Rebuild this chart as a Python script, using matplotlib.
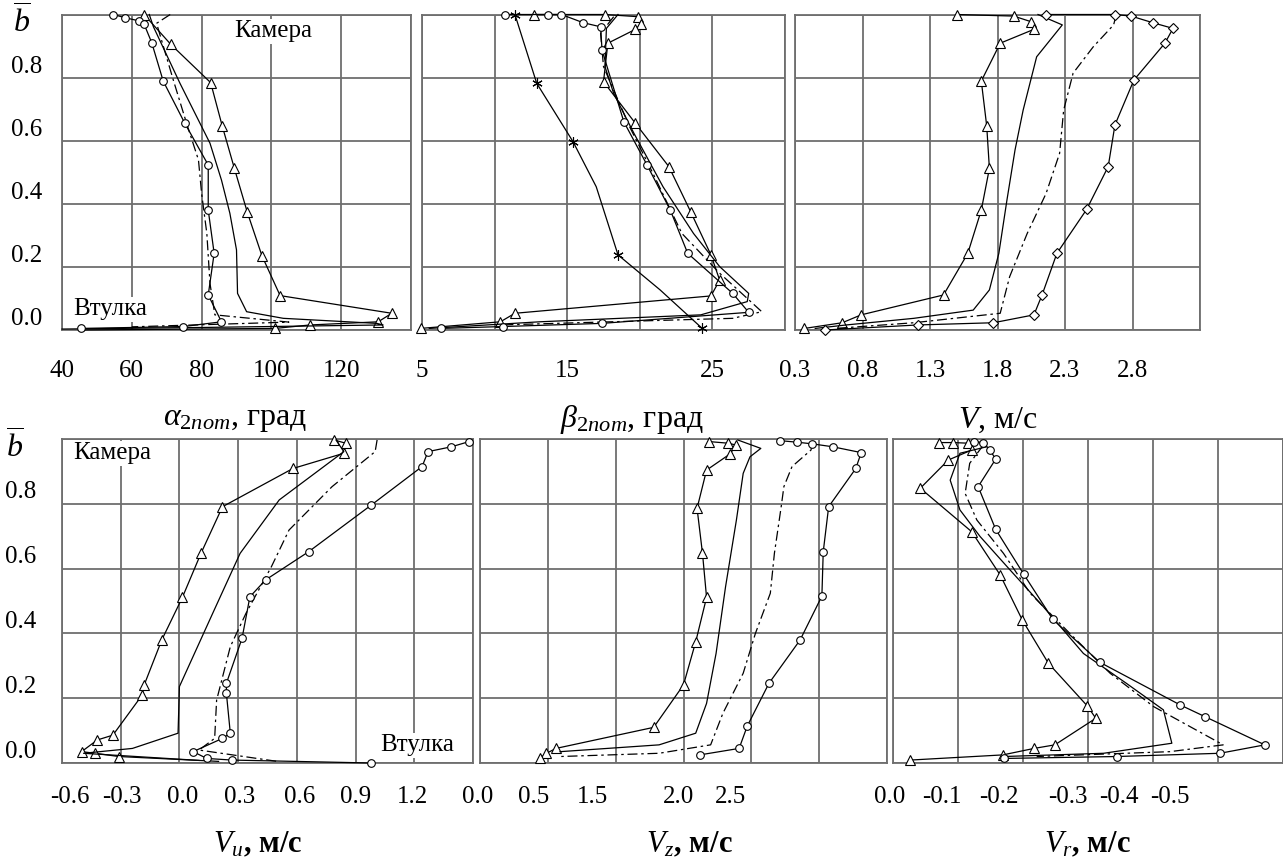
import matplotlib
matplotlib.use("Agg")
import matplotlib.pyplot as plt
import numpy as np

plt.rcParams['font.family'] = ['Liberation Serif', 'DejaVu Serif']
plt.rcParams['mathtext.fontset'] = 'custom'
plt.rcParams['mathtext.rm'] = 'Liberation Serif'
plt.rcParams['mathtext.it'] = 'Liberation Serif:italic'
plt.rcParams['mathtext.bf'] = 'Liberation Serif:bold'

# ---- alpha_2пот, град ----
a_tri_x = [63.5, 71.2, 82.6, 85.9, 89.4, 93.1, 97.3, 102.5, 134.5, 130.6, 111.1, 101.0, 45.0]
a_tri_b = [1.0, 0.905, 0.784, 0.647, 0.512, 0.373, 0.235, 0.109, 0.053, 0.026, 0.016, 0.005, 0.0]
a_sol_x = [65.0, 66.2, 73.8, 82.4, 85.7, 88.1, 90.0, 90.3, 92.9, 103.4, 130.2, 132.0, 80.0, 40.0]
a_sol_b = [1.0, 0.961, 0.782, 0.592, 0.475, 0.370, 0.254, 0.116, 0.058, 0.037, 0.021, 0.016, 0.008, 0.003]
a_dsh_x = [71.0, 67.1, 71.9, 75.7, 79.1, 80.0, 81.5, 82.4, 83.8, 105.0, 60.0]
a_dsh_b = [1.0, 0.972, 0.792, 0.655, 0.539, 0.433, 0.306, 0.148, 0.048, 0.025, 0.01]
a_cir_x = [54.7, 58.0, 62.0, 63.5, 65.7, 69.0, 75.2, 81.9, 81.9, 83.6, 81.9, 85.7, 74.8, 45.4]
a_cir_b = [1.0, 0.99, 0.98, 0.97, 0.911, 0.789, 0.655, 0.523, 0.380, 0.243, 0.111, 0.026, 0.011, 0.005]

# ---- beta_2пот, град ----
b_star_x = [11.4, 12.9, 15.4, 17.0, 18.5, 21.4, 24.3]
b_star_b = [1.0, 0.782, 0.597, 0.454, 0.238, 0.127, 0.005]
b_tri_x = [12.7, 17.6, 19.9, 20.1, 19.7, 17.8, 17.5, 19.7, 22.0, 23.5, 24.9, 25.5, 24.9, 11.4, 10.4, 4.9]
b_tri_b = [1.0, 1.0, 0.993, 0.970, 0.953, 0.909, 0.787, 0.655, 0.518, 0.375, 0.238, 0.158, 0.108, 0.053, 0.026, 0.005]
b_sol_x = [18.5, 17.7, 17.6, 18.2, 19.6, 21.6, 23.7, 25.5, 27.5, 27.4, 24.2, 13.1, 5.5]
b_sol_b = [1.0, 0.956, 0.835, 0.75, 0.623, 0.454, 0.306, 0.201, 0.116, 0.09, 0.048, 0.026, 0.005]
b_dsh_x = [18.2, 17.3, 17.5, 19.3, 20.9, 22.9, 25.5, 28.4, 26.4, 10.4]
b_dsh_b = [0.993, 0.940, 0.835, 0.644, 0.497, 0.306, 0.180, 0.058, 0.037, 0.016]
b_cir_x = [10.7, 13.7, 14.6, 16.1, 17.3, 17.4, 18.9, 20.5, 22.1, 23.3, 26.4, 27.5, 17.4, 10.6, 6.3]
b_cir_b = [1.0, 1.0, 1.0, 0.974, 0.961, 0.887, 0.660, 0.523, 0.380, 0.243, 0.116, 0.056, 0.021, 0.011, 0.005]

# ---- V, м/с ----
v_tri_x = [1.50, 1.92, 2.05, 2.07, 1.82, 1.68, 1.72, 1.74, 1.68, 1.58, 1.40, 0.79, 0.65, 0.37]
v_tri_b = [1.0, 0.995, 0.977, 0.953, 0.909, 0.789, 0.647, 0.512, 0.380, 0.243, 0.111, 0.048, 0.023, 0.005]
v_sol_x = [2.1, 2.28, 2.09, 1.99, 1.93, 1.87, 1.81, 1.74, 1.62, 1.18, 0.68, 0.45]
v_sol_b = [1.0, 0.967, 0.866, 0.697, 0.571, 0.412, 0.243, 0.127, 0.063, 0.037, 0.016, 0.005]
v_dsh_x = [2.68, 2.66, 2.51, 2.36, 2.29, 2.26, 2.16, 2.02, 1.89, 1.82, 1.18, 0.6]
v_dsh_b = [1.0, 0.967, 0.898, 0.814, 0.697, 0.560, 0.433, 0.306, 0.169, 0.053, 0.023, 0.005]
v_dia_x = [2.16, 2.67, 2.79, 2.95, 3.10, 3.04, 2.81, 2.67, 2.62, 2.46, 2.24, 2.13, 2.07, 1.77, 1.21, 0.52]
v_dia_b = [1.0, 1.0, 0.995, 0.974, 0.956, 0.909, 0.792, 0.650, 0.518, 0.382, 0.243, 0.111, 0.048, 0.023, 0.016, 0.0]

# ---- Vu, м/с ----
u_tri_x = [0.79, 0.85, 0.84, 0.58, 0.22, 0.11, 0.015, -0.09, -0.18, -0.19, -0.34, -0.42, -0.50, -0.43, -0.31, 0.2]
u_tri_b = [0.997, 0.987, 0.956, 0.909, 0.791, 0.647, 0.511, 0.380, 0.241, 0.210, 0.086, 0.071, 0.035, 0.030, 0.02, 0.005]
u_sol_x = [0.80, 0.84, 0.51, 0.31, 0.17, 0.0, -0.007, -0.24, -0.49, 0.1]
u_sol_b = [0.997, 0.961, 0.812, 0.647, 0.462, 0.236, 0.092, 0.045, 0.030, 0.008]
u_dsh_x = [1.01, 1.0, 0.78, 0.56, 0.47, 0.34, 0.26, 0.19, 0.18, 0.10, 0.5]
u_dsh_b = [0.997, 0.961, 0.853, 0.719, 0.606, 0.462, 0.359, 0.194, 0.076, 0.040, 0.005]
u_cir_x = [1.48, 1.39, 1.27, 1.24, 0.98, 0.66, 0.44, 0.36, 0.32, 0.24, 0.24, 0.26, 0.22, 0.07, 0.14, 0.27, 0.98]
u_cir_b = [0.992, 0.976, 0.961, 0.915, 0.796, 0.652, 0.565, 0.513, 0.385, 0.246, 0.215, 0.092, 0.076, 0.035, 0.014, 0.009, 0.0]

# ---- Vz, м/с ----
z_tri_x = [1.69, 1.83, 1.89, 1.84, 1.67, 1.60, 1.64, 1.67, 1.59, 1.50, 1.28, 0.56, 0.49, 0.44]
z_tri_b = [0.992, 0.987, 0.981, 0.953, 0.904, 0.786, 0.647, 0.511, 0.374, 0.241, 0.110, 0.045, 0.030, 0.014]
z_sol_x = [1.9, 2.07, 1.99, 1.94, 1.89, 1.81, 1.74, 1.67, 1.59, 1.32, 0.59]
z_sol_b = [0.997, 0.971, 0.945, 0.894, 0.75, 0.544, 0.338, 0.184, 0.092, 0.056, 0.035]
z_dsh_x = [2.45, 2.44, 2.30, 2.24, 2.22, 2.17, 2.14, 2.03, 1.94, 1.79, 1.70, 1.32, 0.59]
z_dsh_b = [0.992, 0.966, 0.915, 0.853, 0.791, 0.647, 0.524, 0.400, 0.277, 0.153, 0.056, 0.030, 0.02]
z_cir_x = [2.21, 2.34, 2.45, 2.60, 2.81, 2.77, 2.57, 2.53, 2.52, 2.36, 2.13, 1.97, 1.91, 1.62]
z_cir_b = [0.995, 0.99, 0.985, 0.976, 0.958, 0.909, 0.791, 0.652, 0.515, 0.380, 0.246, 0.114, 0.045, 0.025]

# ---- Vr, м/с ----
r_tri_x = [-0.070, -0.093, -0.116, -0.121, -0.085, -0.042, -0.121, -0.165, -0.199, -0.239, -0.299, -0.312, -0.249, -0.217, -0.169, -0.026]
r_tri_b = [0.989, 0.989, 0.987, 0.966, 0.935, 0.848, 0.714, 0.580, 0.441, 0.308, 0.176, 0.138, 0.056, 0.045, 0.025, 0.009]
r_sol_x = [-0.13, -0.144, -0.103, -0.088, -0.103, -0.134, -0.180, -0.231, -0.293, -0.359, -0.416, -0.429, -0.324, -0.170]
r_sol_b = [0.992, 0.976, 0.956, 0.873, 0.781, 0.699, 0.596, 0.483, 0.338, 0.246, 0.164, 0.061, 0.030, 0.020]
r_dsh_x = [-0.139, -0.118, -0.111, -0.129, -0.170, -0.211, -0.272, -0.334, -0.401, -0.508, -0.426, -0.221]
r_dsh_b = [0.981, 0.925, 0.832, 0.750, 0.647, 0.524, 0.400, 0.277, 0.174, 0.056, 0.035, 0.02]
r_cir_x = [-0.124, -0.139, -0.149, -0.158, -0.131, -0.158, -0.201, -0.246, -0.318, -0.442, -0.480, -0.572, -0.503, -0.344, -0.170]
r_cir_b = [0.992, 0.989, 0.966, 0.938, 0.853, 0.721, 0.583, 0.443, 0.311, 0.179, 0.143, 0.056, 0.030, 0.02, 0.014]

# tick labels
b_ticks = [0.0, 0.2, 0.4, 0.6, 0.8]
a_labels = ['40', '60', '80', '100', '120']
beta_labels = ['5', '15', '25']
v_labels = ['0.3', '0.8', '1.3', '1.8', '2.3', '2.8']
u_labels = ['-0.6', '-0.3', '0.0', '0.3', '0.6', '0.9', '1.2']
z_labels = ['0.0', '0.5', '1.5', '2.0', '2.5']
r_labels = ['0.0', '-0.1', '-0.2', '-0.3', '-0.4', '-0.5']

W, H = 1283, 867
fig = plt.figure(figsize=(W / 100, H / 100), dpi=100)
GRID = '#6e6e6e'


def panel(x0, x1, y0, y1, xlim, xstep):
    ax = fig.add_axes([x0 / W, 1 - y1 / H, (x1 - x0) / W, (y1 - y0) / H])
    ax.set_xlim(*xlim)
    ax.set_ylim(0, 1)
    lo, hi = min(xlim), max(xlim)
    ax.set_xticks(np.arange(lo, hi + xstep / 2, xstep))
    ax.set_yticks([0, 0.2, 0.4, 0.6, 0.8, 1.0])
    ax.grid(True, color=GRID, lw=1.3)
    ax.tick_params(length=0, labelbottom=False, labelleft=False)
    for s in ax.spines.values():
        s.set_color(GRID)
        s.set_linewidth(1.3)
    return ax


def curve(ax, x, b, ls='-', marker=None, ms=6.5, mevery=None):
    ax.plot(x, b, color='black', lw=0.9, ls=ls, marker=marker, ms=ms,
            mfc='white', mec='black', mew=0.8, markevery=mevery, clip_on=False, zorder=3)


DD = (0, (8, 3, 2, 3))

ax1 = panel(62, 411, 14.5, 330, (40, 140), 20)
ax2 = panel(422, 785, 14.5, 330, (5, 30), 5)
ax3 = panel(795, 1200, 14.5, 330, (0.3, 3.3), 0.5)
ax4 = panel(62, 473, 439, 763, (-0.6, 1.5), 0.3)
ax5 = panel(480, 887, 439, 763, (0, 3.0), 0.5)
ax6 = panel(893, 1283, 439, 763, (0, -0.6), 0.1)

curve(ax1, a_tri_x, a_tri_b, marker='^', mevery=list(range(12)))
curve(ax1, a_sol_x, a_sol_b)
curve(ax1, a_dsh_x, a_dsh_b, ls=DD)
curve(ax1, a_cir_x, a_cir_b, marker='o', ms=5.5)

curve(ax2, b_star_x, b_star_b, marker=(6, 2, 0), ms=7.5, mevery=[0, 1, 2, 4, 6])
curve(ax2, b_tri_x, b_tri_b, marker='^')
curve(ax2, b_sol_x, b_sol_b)
curve(ax2, b_dsh_x, b_dsh_b, ls=DD)
curve(ax2, b_cir_x, b_cir_b, marker='o', ms=5.5)

curve(ax3, v_tri_x, v_tri_b, marker='^')
curve(ax3, v_sol_x, v_sol_b)
curve(ax3, v_dsh_x, v_dsh_b, ls=DD)
curve(ax3, v_dia_x, v_dia_b, marker='D', ms=5.5)

curve(ax4, u_tri_x, u_tri_b, marker='^', mevery=list(range(15)))
curve(ax4, u_sol_x, u_sol_b)
curve(ax4, u_dsh_x, u_dsh_b, ls=DD)
curve(ax4, u_cir_x, u_cir_b, marker='o', ms=5.5)

curve(ax5, z_tri_x, z_tri_b, marker='^')
curve(ax5, z_sol_x, z_sol_b)
curve(ax5, z_dsh_x, z_dsh_b, ls=DD)
curve(ax5, z_cir_x, z_cir_b, marker='o', ms=5.5)

curve(ax6, r_tri_x, r_tri_b, marker='^')
curve(ax6, r_sol_x, r_sol_b)
curve(ax6, r_dsh_x, r_dsh_b, ls=DD)
curve(ax6, r_cir_x, r_cir_b, marker='o', ms=5.5)

FS = 18


def ftext(px, py, s, **kw):
    fig.text(px / W, 1 - py / H, s, ha='center', va='center', **kw)


# b-axis labels on the left
for ax in (ax1, ax4):
    for v in b_ticks:
        ax.text(-0.1, v + 0.035, f'{v:.1f}', transform=ax.get_yaxis_transform(),
                ha='center', va='center', fontsize=FS)
    ax.text(-0.115, 0.975, r'$\overline{b}$', transform=ax.get_yaxis_transform(),
            ha='center', va='center', fontsize=23)

# top row tick labels sit under the grid lines
for ax, vals, labs in ((ax1, [40, 60, 80, 100, 120], a_labels),
                       (ax2, [5, 15, 25], beta_labels),
                       (ax3, [0.3, 0.8, 1.3, 1.8, 2.3, 2.8], v_labels)):
    for v, s in zip(vals, labs):
        ax.text(v, -0.13, s, transform=ax.get_xaxis_transform(),
                ha='center', va='center', fontsize=FS)

# bottom row tick labels were typed as a line of text, not quite on the grid
u_pos = [70, 122, 183, 240, 300, 356, 412]
z_pos = [478, 534, 592, 678, 730]
r_pos = [890, 942, 999, 1068, 1119, 1170]
for pos, labs in ((u_pos, u_labels), (z_pos, z_labels), (r_pos, r_labels)):
    for p, s in zip(pos, labs):
        ftext(p, 797, s, fontsize=FS)

# axis titles
ftext(235, 420, r'$\alpha_{2пот}$, град', fontsize=23)
ftext(632, 420, r'$\beta_{2пот}$, град', fontsize=23)
ftext(998, 420, r'$V$, м/с', fontsize=23)
ftext(258, 845, r'$V_{u}$, м/с', fontsize=22, fontweight='bold')
ftext(689, 845, r'$V_{z}$, м/с', fontsize=22, fontweight='bold')
ftext(1087, 845, r'$V_{r}$, м/с', fontsize=22, fontweight='bold')

# annotations
box = dict(facecolor='white', edgecolor='none', pad=1)
ftext(273, 31, 'Камера', fontsize=18, bbox=box, zorder=5)
ftext(110, 309, 'Втулка', fontsize=18, bbox=box, zorder=5)
ftext(112, 453, 'Камера', fontsize=18, bbox=box, zorder=5)
ftext(417, 745, 'Втулка', fontsize=18, bbox=box, zorder=5)

fig.savefig('out.png', dpi=100, facecolor='white')
